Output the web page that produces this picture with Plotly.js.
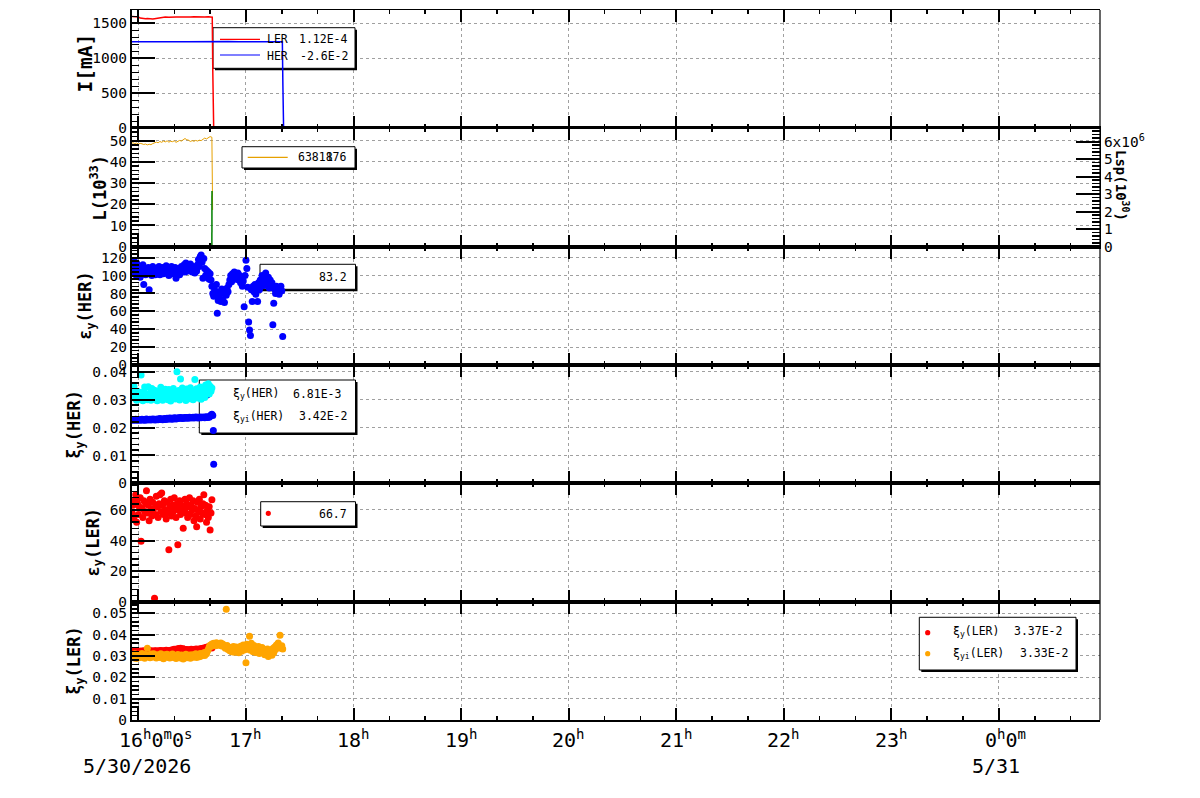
<!DOCTYPE html>
<html><head><meta charset="utf-8">
<script src="https://cdn.plot.ly/plotly-3.0.1.min.js"></script>
<style>html,body{margin:0;padding:0;background:#fff}#chart{width:1200px;height:798px}</style>
</head><body><div id="chart"></div>
<script>
// ---------------- DATA (time = minutes after 2026-05-30 16:00) ----------------
const tLER = [-3.6,-2,-1,0,1,2,3,4,5,6,7,8,9,10,11,12,13,15,17,19,21,23,25,27,29,31,33,35,37,39,41,41.2,41.5,42,536.4];
const curLER = [1596,1594,1597,1590,1575,1568,1572,1565,1569,1563,1567,1561,1566,1570,1574,1585,1588,1590,1587,1592,1589,1591,1588,1592,1590,1593,1590,1591,1589,1592,1590,1588,815,0.2,0.000112];
const tHER = [-3.6,2,8,14,20,26,32,38,44,50,56,62,68,74,80.3,80.6,81,536.4];
const curHER = [1238,1240,1237,1239,1238,1236,1239,1237,1238,1240,1237,1239,1238,1237,1238,615,0,-0.026];

const tLumi = [-3.6,-3,-2,-1,0,1,2,3,4,5,6,7,8,9,10,11,12,13,14,15,16,17,18,19,20,21,22,23,24,25,26,27,28,29,30,31,32,33,34,35,36,37,38,39,40,41,41.4];
const lumi = [48.8,49.0,48.6,48.9,48.4,48.7,48.5,48.2,48.4,48.0,48.3,48.1,48.6,48.9,49.3,49.0,49.6,49.2,49.8,49.4,49.9,49.3,49.7,49.5,49.9,49.2,49.6,50.1,49.8,50.6,51.0,50.4,50.2,49.6,50.0,49.7,50.1,49.8,50.2,50.0,50.6,51.2,50.8,51.5,51.9,51.6,17.3];
const tLsp = [41.0,41.05];
const lsp = [0,3.18e6];

const tShort = [-3.5,-3,-2.5,-2,-1.5,-1,-0.5,0,0.5,1,
1.5,2,2.5,3,3.5,4,4.5,5,5.5,6,
6.5,7,7.5,8,8.5,9,9.5,10,10.5,11,
11.5,12,12.5,13,13.5,14,14.5,15,15.5,16,
16.5,17,17.5,18,18.5,19,19.5,20,20.5,21,
21.5,22,22.5,23,23.5,24,24.5,25,25.5,26,
26.5,27,27.5,28,28.5,29,29.5,30,30.5,31,
31.5,32,32.5,33,33.5,34,34.5,35,35.5,36,
36.5,37,37.5,38,38.5,39,39.5,40,40.5,41];
const tLong = [-3.5,-3,-2.5,-2,-1.5,-1,-0.5,0,0.5,1,
1.5,2,2.5,3,3.5,4,4.5,5,5.5,6,
6.5,7,7.5,8,8.5,9,9.5,10,10.5,11,
11.5,12,12.5,13,13.5,14,14.5,15,15.5,16,
16.5,17,17.5,18,18.5,19,19.5,20,20.5,21,
21.5,22,22.5,23,23.5,24,24.5,25,25.5,26,
26.5,27,27.5,28,28.5,29,29.5,30,30.5,31,
31.5,32,32.5,33,33.5,34,34.5,35,35.5,36,
36.5,37,37.5,38,38.5,39,39.5,40,40.5,41,
41.5,42,42.5,43,43.5,44,44.5,45,45.5,46,
46.5,47,47.5,48,48.5,49,49.5,50,50.5,51,
51.5,52,52.5,53,53.5,54,54.5,55,55.5,56,
56.5,57,57.5,58,58.5,59,59.5,60,60.5,61,
61.5,62,62.5,63,63.5,64,64.5,65,65.5,66,
66.5,67,67.5,68,68.5,69,69.5,70,70.5,71,
71.5,72,72.5,73,73.5,74,74.5,75,75.5,76,
76.5,77,77.5,78,78.5,79,79.5,80,80.5];

const emitHER = [112,104,116,108,101,114,106,103,110,98,
107,104,112,90,105,101,108,102,109,84,
104,107,100,110,103,106,101,108,103,105,
110,101,106,104,109,102,107,105,111,103,
108,100,106,104,110,102,107,104,109,97,
106,103,108,101,105,110,104,107,112,104,
114,109,105,111,106,113,108,104,110,106,
103,108,105,112,118,110,121,123,115,97,
119,108,100,106,98,104,96,102,95,88,
80,77,84,79,90,58,72,76,82,71,
85,73,80,70,84,78,86,82,90,95,
100,93,102,97,104,96,101,98,103,95,
100,92,97,88,94,65,100,117,108,87,
48,39,33,84,71,88,82,90,79,86,
71,92,84,95,88,100,92,97,89,103,
94,91,98,86,95,88,92,45,69,85,
80,88,82,86,79,84,88,83,32];

const tXiHER = [-3.5,-3,-2.5,-2,-1.5,-1,-0.5,0,0.5,1,
1.5,2,2.5,3,3.5,4,4.5,5,5.5,6,
6.5,7,7.5,8,8.5,9,9.5,10,10.5,11,
11.5,12,12.5,13,13.5,14,14.5,15,15.5,16,
16.5,17,17.5,18,18.5,19,19.5,20,20.5,21,
21.5,22,22.5,23,23.5,24,24.5,25,25.5,26,
26.5,27,27.5,28,28.5,29,29.5,30,30.5,31,
31.5,32,32.5,33,33.5,34,34.5,35,35.5,36,
36.5,37,37.5,38,38.5,39,39.5,40,40.5,41,
41.5,41.8,42.0];
const xiHER = [0.0228,0.0226,0.0229,0.0227,0.0230,0.0226,0.0228,0.0227,0.0229,0.0226,
0.0228,0.0230,0.0227,0.0229,0.0226,0.0228,0.0231,0.0227,0.0229,0.0228,
0.0230,0.0227,0.0229,0.0231,0.0228,0.0230,0.0227,0.0229,0.0231,0.0228,
0.0230,0.0232,0.0229,0.0231,0.0228,0.0230,0.0232,0.0229,0.0231,0.0233,
0.0230,0.0232,0.0234,0.0231,0.0233,0.0230,0.0232,0.0235,0.0233,0.0231,
0.0234,0.0232,0.0235,0.0233,0.0236,0.0234,0.0232,0.0235,0.0233,0.0236,
0.0234,0.0236,0.0233,0.0235,0.0237,0.0234,0.0236,0.0235,0.0237,0.0234,
0.0236,0.0238,0.0235,0.0237,0.0234,0.0236,0.0238,0.0235,0.0237,0.0236,
0.0238,0.0235,0.0237,0.0239,0.0236,0.0238,0.0237,0.0240,0.0245,0.0248,
0.0243,0.0189,0.00681];
const xiiHER = [0.0335,0.0312,0.0348,0.0305,0.0322,0.0298,0.0330,0.0310,0.0326,0.0302,
0.0388,0.0318,0.0296,0.0328,0.0345,0.0307,0.0319,0.0300,0.0346,0.0312,
0.0325,0.0298,0.0340,0.0315,0.0303,0.0334,0.0309,0.0322,0.0296,0.0318,
0.0330,0.0302,0.0344,0.0314,0.0298,0.0327,0.0310,0.0337,0.0305,0.0321,
0.0300,0.0336,0.0313,0.0295,0.0329,0.0308,0.0340,0.0316,0.0302,0.0324,
0.0400,0.0311,0.0333,0.0299,0.0374,0.0319,0.0342,0.0306,0.0328,0.0313,
0.0297,0.0338,0.0310,0.0325,0.0303,0.0343,0.0317,0.0331,0.0300,0.0322,
0.0372,0.0312,0.0339,0.0306,0.0327,0.0318,0.0345,0.0301,0.0334,0.0315,
0.0341,0.0308,0.0352,0.0326,0.0336,0.0357,0.0320,0.0348,0.0330,0.0342];

const emitLER = [58,63,54,66,70,52,64,57,62,68,
39.5,61,55,66,59,64,72.6,58,63,53,
67,60,56,65,61,2.2,57,69,62,55,
64,70,59,71,63,57,66,60,54,65,
58,34,62,67,56,63,59,68,61,55,
64,37.3,60,66,57,63,59,48,61,67,
58,64,55,62,68,57,63,60,66,53,
61,56,49,65,59,67,54,62,58,64,
70,57,63,52,60,55,62,46.8,58,66.7];

const xiLER = [0.0318,0.0322,0.0316,0.0320,0.0323,0.0319,0.0321,0.0317,0.0322,0.0320,
0.0323,0.0319,0.0321,0.0324,0.0320,0.0322,0.0318,0.0323,0.0321,0.0325,
0.0320,0.0322,0.0324,0.0321,0.0319,0.0323,0.0325,0.0321,0.0323,0.0320,
0.0324,0.0322,0.0326,0.0323,0.0321,0.0325,0.0322,0.0324,0.0327,0.0323,
0.0325,0.0322,0.0326,0.0324,0.0328,0.0325,0.0329,0.0331,0.0327,0.0330,
0.0333,0.0330,0.0335,0.0332,0.0336,0.0333,0.0330,0.0334,0.0331,0.0329,
0.0327,0.0330,0.0328,0.0325,0.0329,0.0327,0.0331,0.0328,0.0330,0.0327,
0.0331,0.0329,0.0333,0.0330,0.0328,0.0332,0.0334,0.0331,0.0335,0.0333,
0.0337,0.0333,0.0339,0.0341,0.0336,0.0343,0.0340,0.0345,0.0342,0.0337];
const xiiLER = [0.0298,0.0305,0.0291,0.0310,0.0300,0.0288,0.0303,0.0296,0.0308,0.0293,
0.0301,0.0312,0.0295,0.0304,0.0289,0.0307,0.0299,0.0336,0.0297,0.0305,
0.0292,0.0309,0.0300,0.0295,0.0311,0.0298,0.0303,0.0290,0.0306,0.0299,
0.0304,0.0293,0.0310,0.0297,0.0302,0.0287,0.0306,0.0299,0.0294,0.0308,
0.0296,0.0301,0.0290,0.0305,0.0298,0.0309,0.0293,0.0303,0.0297,0.0288,
0.0302,0.0307,0.0294,0.0300,0.0291,0.0305,0.0298,0.0286,0.0303,0.0296,
0.0308,0.0292,0.0301,0.0297,0.0305,0.0289,0.0300,0.0306,0.0294,0.0303,
0.0298,0.0310,0.0293,0.0302,0.0307,0.0296,0.0312,0.0300,0.0305,0.0309,
0.0315,0.0302,0.0318,0.0310,0.0322,0.0330,0.0342,0.0350,0.0345,0.0356,
0.0352,0.0360,0.0355,0.0348,0.0362,0.0357,0.0350,0.0359,0.0354,0.0361,
0.0347,0.0356,0.0351,0.0343,0.0336,0.0519,0.0349,0.0330,0.0341,0.0325,
0.0338,0.0320,0.0334,0.0345,0.0318,0.0331,0.0342,0.0326,0.0337,0.0315,
0.0333,0.0346,0.0322,0.0340,0.0351,0.0328,0.0336,0.0268,0.0355,0.0331,
0.0344,0.0393,0.0327,0.0360,0.0338,0.0320,0.0349,0.0332,0.0316,0.0341,
0.0329,0.0345,0.0312,0.0336,0.0323,0.0340,0.0318,0.0331,0.0306,0.0327,
0.0314,0.0333,0.0298,0.0320,0.0309,0.0326,0.0303,0.0335,0.0315,0.0342,
0.0330,0.0352,0.0338,0.0361,0.0344,0.0397,0.0336,0.0348,0.0333];

// axis tick labels
const hourTicks = [0,60,120,180,240,300,360,420,480];
const hourLabels = ['16<sup>h</sup>0<sup>m</sup>0<sup>s</sup>','17<sup>h</sup>','18<sup>h</sup>','19<sup>h</sup>','20<sup>h</sup>','21<sup>h</sup>','22<sup>h</sup>','23<sup>h</sup>','0<sup>h</sup>0<sup>m</sup>'];
const dateTicks = [0,480];
const dateLabels = ['5/30/2026','5/31'];
const lspTicks = [0,1e6,2e6,3e6,4e6,5e6,6e6];
const lspLabels = ['0','1','2','3','4','5','6x10<sup>6</sup>'];
const yTitles = ['I[mA]', 'L(10<sup>33</sup>)', 'ε<sub>y</sub>(HER)', 'ξ<sub>y</sub>(HER)', 'ε<sub>y</sub>(LER)', 'ξ<sub>y</sub>(LER)'];
const lspTitle = 'Lsp(10<sup>30</sup>)';

// legend texts
const legendNames = {p1:['LER','HER'], p4:['ξ<sub>y</sub>(HER)','ξ<sub>yi</sub>(HER)'], p6:['ξ<sub>y</sub>(LER)','ξ<sub>yi</sub>(LER)']};
const legendValues = {p1:['1.12E-4','-2.6E-2'], p2:['6381876','1'], p3:['83.2'], p4:['6.81E-3','3.42E-2'], p5:['66.7'], p6:['3.37E-2','3.33E-2']};

// ---------------- STYLE / LAYOUT ----------------
const FONT = 'DejaVu Sans Mono';
const W = 1200, H = 798, ML = 132, MR = 100, MT = 10, MB = 78;
const PW = W - ML - MR, PH = H - MT - MB, PANEL_H = PH / 6;
const X0MS = Date.UTC(2026, 4, 30, 15, 56, 26), X1MS = Date.UTC(2026, 4, 31, 0, 56, 24);

function fmt(ms) {
  const d = new Date(ms);
  const p = (n, k) => String(n).padStart(k || 2, '0');
  return d.getUTCFullYear() + '-' + p(d.getUTCMonth() + 1) + '-' + p(d.getUTCDate()) + ' ' + p(d.getUTCHours()) + ':' + p(d.getUTCMinutes()) + ':' + p(d.getUTCSeconds()) + '.' + p(d.getUTCMilliseconds(), 3);
}
const T = m => fmt(Date.UTC(2026, 4, 30, 16, 0, 0) + Math.round(m * 60000));
const xRange = [fmt(X0MS), fmt(X1MS)];
const sfx = i => (i === 1 ? '' : String(i));
const botPx = i => MT + PANEL_H * i;
const pX = px => (px - ML) / PW;
const pY = py => (MT + PH - py) / PH;

const RED = '#ff0000', BLUE = '#0000ff', CYAN = '#00ffff', ORANGE = '#ffa500', LORANGE = '#e6a000', GREEN = '#008000';

const traces = [
  {x: tLER.map(T), y: curLER, xaxis: 'x', yaxis: 'y', mode: 'lines', line: {color: RED, width: 1.5}},
  {x: tHER.map(T), y: curHER, xaxis: 'x', yaxis: 'y', mode: 'lines', line: {color: BLUE, width: 1.5}},
  {x: tLumi.map(T), y: lumi, xaxis: 'x2', yaxis: 'y2', mode: 'lines', line: {color: LORANGE, width: 1}},
  {x: tLsp.map(T), y: lsp, xaxis: 'x2', yaxis: 'y7', mode: 'lines', line: {color: GREEN, width: 1.5}},
  {x: tLong.map(T), y: emitHER, xaxis: 'x3', yaxis: 'y3', mode: 'markers', marker: {color: BLUE, size: 7}},
  {x: tXiHER.map(T), y: xiHER, xaxis: 'x4', yaxis: 'y4', mode: 'markers', marker: {color: BLUE, size: 7}},
  {x: tShort.map(T), y: xiiHER, xaxis: 'x4', yaxis: 'y4', mode: 'markers', marker: {color: CYAN, size: 7}},
  {x: tShort.map(T), y: emitLER, xaxis: 'x5', yaxis: 'y5', mode: 'markers', marker: {color: RED, size: 7}},
  {x: tShort.map(T), y: xiLER, xaxis: 'x6', yaxis: 'y6', mode: 'markers', marker: {color: RED, size: 7}},
  {x: tLong.map(T), y: xiiLER, xaxis: 'x6', yaxis: 'y6', mode: 'markers', marker: {color: ORANGE, size: 7}}
];
traces.forEach(t => { t.showlegend = false; t.hoverinfo = 'skip'; });

const yRanges = [[0, 1690], [0, 55.8], [0, 132.3], [0, 0.04241], [0, 77.4], [0, 0.05545]];
const yDtick = [500, 10, 20, 0.01, 20, 0.01];
const yMinor = [100, 2, 4, 0.002, 4, 0.002];
const GRID = {showgrid: true, gridcolor: '#a0a0a0', griddash: '3px,3px', gridwidth: 1};

const layout = {
  width: W, height: H, margin: {l: ML, r: MR, t: MT, b: MB, pad: 0},
  paper_bgcolor: '#fff', plot_bgcolor: '#fff', showlegend: false, hovermode: false,
  font: {family: FONT, color: '#000'},
  shapes: [], annotations: []
};
for (let i = 1; i <= 6; i++) {
  layout['xaxis' + sfx(i)] = Object.assign({
    type: 'date', range: xRange, domain: [0, 1], anchor: 'y' + sfx(i),
    showline: true, linecolor: '#000', linewidth: i === 1 ? 1 : 2, mirror: 'ticks',
    ticks: 'inside', ticklen: 12, tickwidth: 2, tickcolor: '#000',
    tick0: '2026-05-30 16:00:00', dtick: 3600000, showticklabels: false, zeroline: false,
    minor: {ticks: 'inside', ticklen: 4, tickwidth: 1.5, tickcolor: '#000', dtick: 1200000, showgrid: false}
  }, GRID);
  layout['yaxis' + sfx(i)] = Object.assign({
    domain: [1 - i / 6, 1 - (i - 1) / 6], anchor: 'x' + sfx(i), range: yRanges[i - 1],
    tick0: 0, dtick: yDtick[i - 1], showline: true, linecolor: '#000', linewidth: 2, mirror: false,
    ticks: 'inside', ticklen: 23, tickwidth: 2, tickcolor: '#000', zeroline: false,
    tickfont: {family: FONT, size: 14.5, color: '#000'},
    minor: {ticks: 'inside', ticklen: 7, tickwidth: 1.5, tickcolor: '#000', dtick: yMinor[i - 1], showgrid: false}
  }, GRID);
}
layout.yaxis7 = {
  overlaying: 'y2', side: 'right', anchor: 'x2', range: [0, 6.76e6],
  tickmode: 'array', tickvals: lspTicks, ticktext: lspLabels,
  showline: true, linecolor: '#000', linewidth: 1, showgrid: false, zeroline: false,
  ticks: 'inside', ticklen: 24, tickwidth: 2, tickcolor: '#000',
  tickfont: {family: FONT, size: 14.5, color: '#000'},
  minor: {ticks: 'inside', ticklen: 8, tickwidth: 1.5, tickcolor: '#000', dtick: 2e5, showgrid: false}
};
// thin right frame line
layout.shapes.push({type: 'line', layer: 'above', xref: 'paper', yref: 'paper', x0: 1, x1: 1, y0: 0, y1: 1, line: {color: '#000', width: 1.2}});

// y-axis titles (rotated text, placed like the reference)
const yTitlePos = [[84.5, 63, 19.5], [98, 187.5, 17], [87, 305.8, 17], [75.5, 424.2, 17], [94, 542.5, 17], [76, 660.8, 17]];
yTitles.forEach((t, k) => {
  const p = yTitlePos[k];
  layout.annotations.push({xref: 'paper', yref: 'paper', x: pX(p[0]), y: pY(p[1]), text: t, textangle: -90,
    showarrow: false, xanchor: 'center', yanchor: 'middle', font: {family: FONT, size: p[2], weight: 'bold', color: '#000'}});
});
layout.annotations.push({xref: 'paper', yref: 'paper', x: pX(1122), y: pY(185), text: lspTitle, textangle: 90,
  showarrow: false, xanchor: 'center', yanchor: 'middle', font: {family: FONT, size: 14, weight: 'bold', color: '#000'}});

// time labels
const hourShift = {0: 18, 8: 7};
hourTicks.forEach((m, k) => {
  layout.annotations.push({xref: 'x6', yref: 'paper', x: T(m), y: pY(723.5), text: hourLabels[k], showarrow: false,
    xanchor: 'center', yanchor: 'top', xshift: hourShift[k] || 0, font: {family: FONT, size: 20, color: '#000'}});
});
const dateShift = [-1, -3];
dateTicks.forEach((m, k) => {
  layout.annotations.push({xref: 'x6', yref: 'paper', x: T(m), y: pY(752), text: dateLabels[k], showarrow: false,
    xanchor: 'center', yanchor: 'top', xshift: dateShift[k], font: {family: FONT, size: 20, color: '#000'}});
});

// legend boxes (ROOT style: white box with drop shadow, drawn under the data)
const xAt = px => fmt(X0MS + (px - ML) / PW * (X1MS - X0MS));
const yAt = (i, py) => { const r = yRanges[i - 1]; return r[0] + (botPx(i) - py) / PANEL_H * (r[1] - r[0]); };
const refs = i => ({xref: 'x' + sfx(i), yref: 'y' + sfx(i)});
const legendShapeStart = layout.shapes.length;
function legBox(i, x0, y0, x1, y1) {
  layout.shapes.push(Object.assign({type: 'rect', layer: 'below', x0: xAt(x0 + 2), x1: xAt(x1 + 2), y0: yAt(i, y1 + 2), y1: yAt(i, y0 + 2), fillcolor: '#000', line: {width: 0}}, refs(i)));
  layout.shapes.push(Object.assign({type: 'rect', layer: 'below', x0: xAt(x0), x1: xAt(x1), y0: yAt(i, y1), y1: yAt(i, y0), fillcolor: '#fff', line: {color: '#000', width: 1}}, refs(i)));
}
function legLine(i, x0, x1, y, color) {
  layout.shapes.push(Object.assign({type: 'line', layer: 'below', x0: xAt(x0), x1: xAt(x1), y0: yAt(i, y), y1: yAt(i, y), line: {color: color, width: 1.2}}, refs(i)));
}
function legDot(i, cx, cy, color) {
  const r = 2.6;
  layout.shapes.push(Object.assign({type: 'circle', layer: 'below', x0: xAt(cx - r), x1: xAt(cx + r), y0: yAt(i, cy + r), y1: yAt(i, cy - r), fillcolor: color, line: {width: 0}}, refs(i)));
}
function legText(px, py, text, anchor) {
  layout.annotations.push({xref: 'paper', yref: 'paper', x: pX(px), y: pY(py), text: text, showarrow: false,
    xanchor: anchor, yanchor: 'middle', borderpad: 0, font: {family: FONT, size: 11.5, color: '#000'}});
}
legBox(1, 213, 27.7, 355, 68.3);
legLine(1, 220, 260, 39.3, RED); legLine(1, 220, 260, 55, BLUE);
legText(265.5, 39.5, legendNames.p1[0], 'left'); legText(348.5, 39.5, legendValues.p1[0], 'right');
legText(265.5, 56, legendNames.p1[1], 'left'); legText(348.5, 56, legendValues.p1[1], 'right');

legBox(2, 242, 146.7, 355, 168);
legLine(2, 247.7, 287.7, 157.3, LORANGE);
legText(348, 157.5, legendValues.p2[0], 'right');
legText(348 - 2 * 11.5 * 0.602, 157.5, legendValues.p2[1], 'right');

legBox(3, 260, 264.3, 355.5, 289.3);
legDot(3, 268, 277, BLUE);
legText(347.5, 277, legendValues.p3[0], 'right');

legBox(4, 199.3, 380, 355.5, 433);
legDot(4, 207.7, 395.7, BLUE); legDot(4, 207.7, 417.3, CYAN);
legText(232, 394, legendNames.p4[0], 'left'); legText(343, 393.5, legendValues.p4[0], 'right');
legText(232, 416, legendNames.p4[1], 'left'); legText(347.5, 415.5, legendValues.p4[1], 'right');

legBox(5, 260.7, 501.7, 355.5, 526);
legDot(5, 268.3, 513.3, RED);
legText(347.5, 513.5, legendValues.p5[0], 'right');

legBox(6, 919.3, 617.3, 1076, 670);
legDot(6, 927.7, 632.7, RED); legDot(6, 927.7, 653.7, ORANGE);
legText(952, 631, legendNames.p6[0], 'left'); legText(1062.5, 630.5, legendValues.p6[0], 'right');
legText(952, 653, legendNames.p6[1], 'left'); legText(1068.5, 652.5, legendValues.p6[1], 'right');

Plotly.newPlot('chart', traces, layout, {staticPlot: true, displayModeBar: false}).then(function (gd) {
  // move the legend boxes between the grid and the data when this Plotly build supports it
  if (document.querySelector('.layer-between .shapelayer')) {
    const upd = {};
    gd.layout.shapes.forEach(function (s, k) { if (k >= legendShapeStart) upd['shapes[' + k + '].layer'] = 'between'; });
    try { return Plotly.relayout(gd, upd); } catch (e) { /* keep 'below' */ }
  }
});
</script>
</body></html>
